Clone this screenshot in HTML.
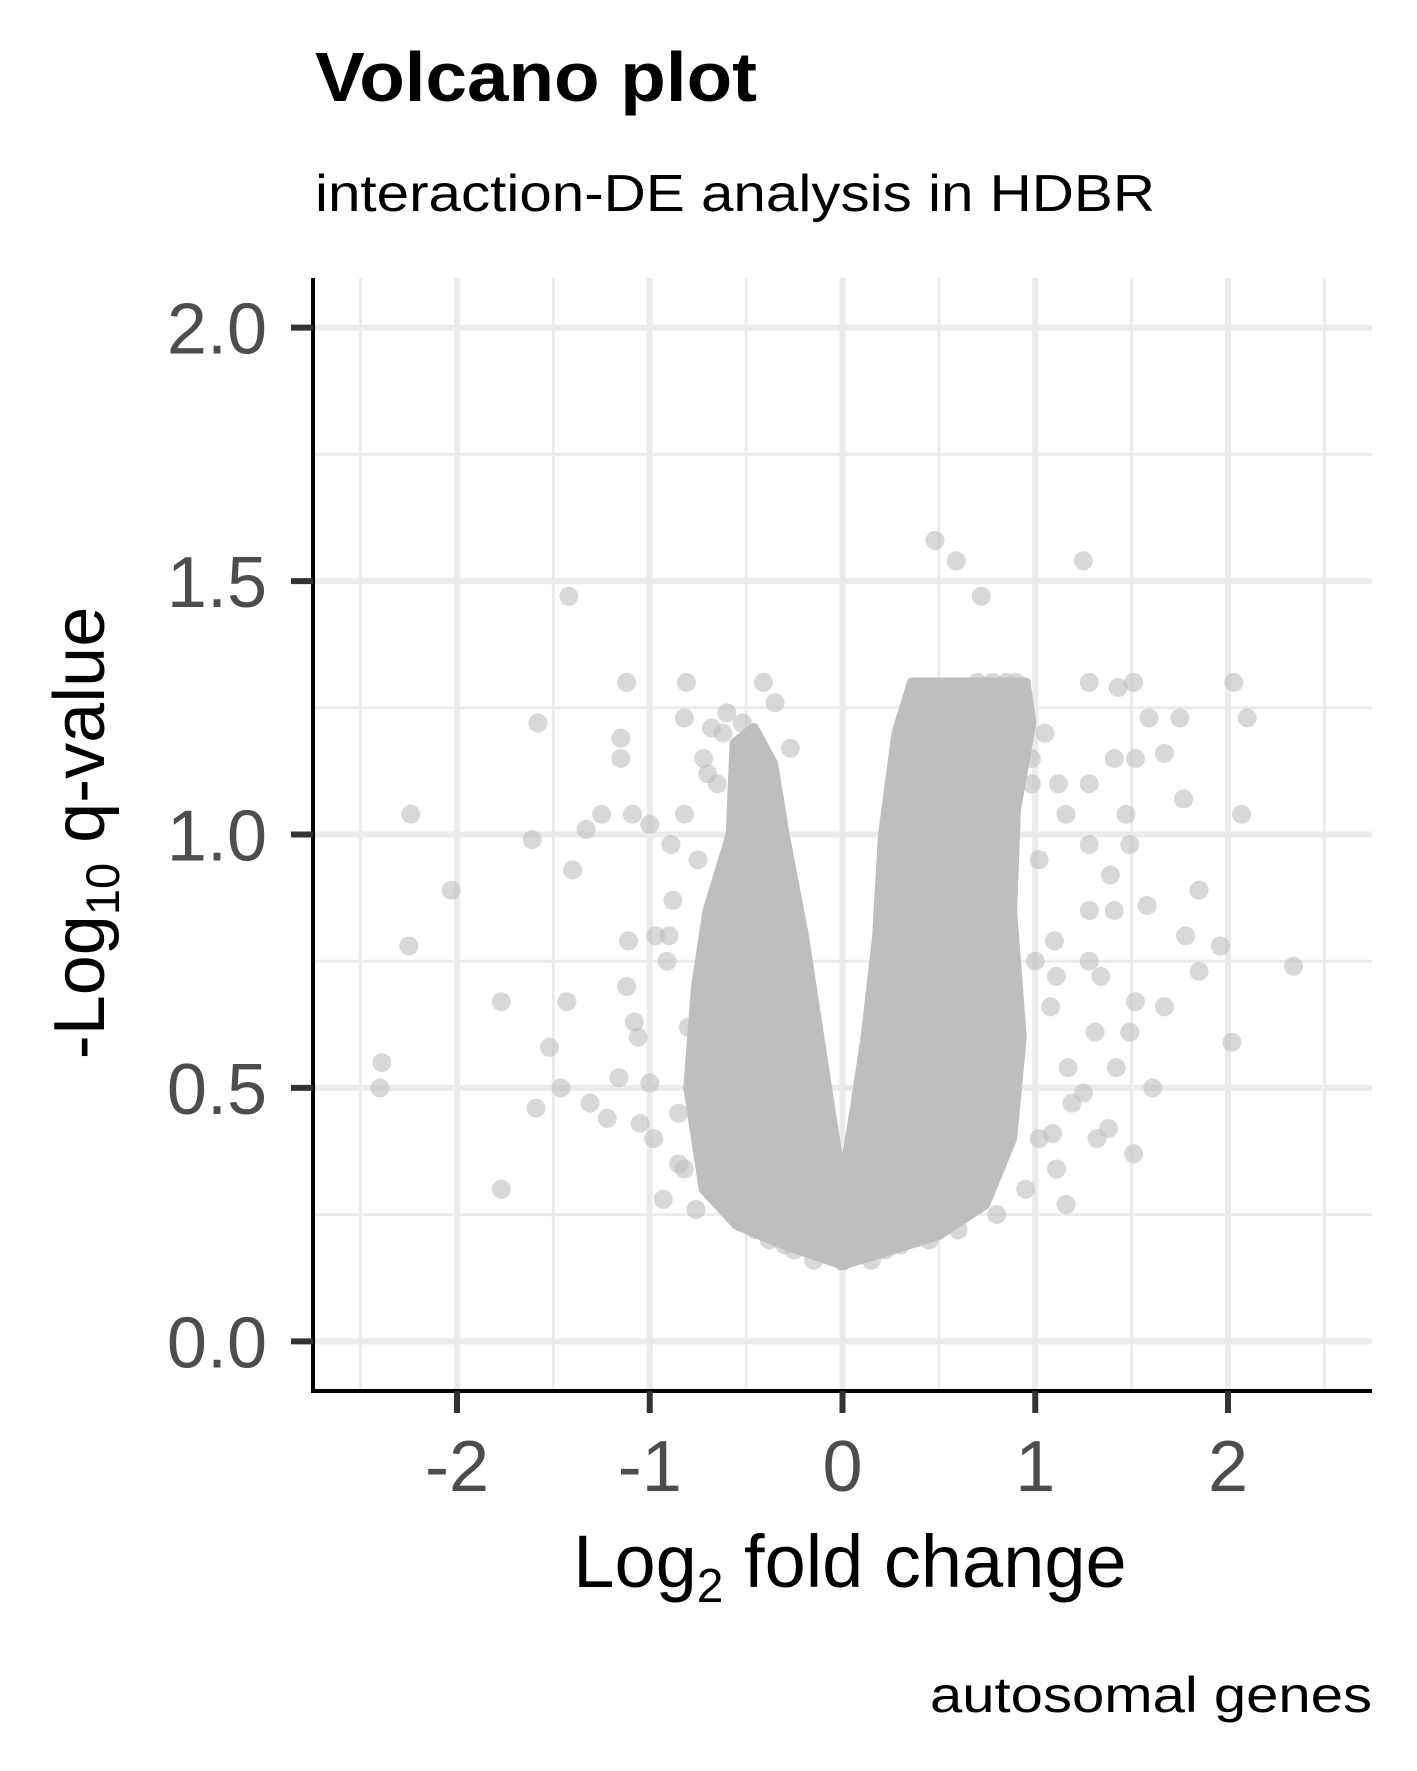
<!DOCTYPE html>
<html><head><meta charset="utf-8"><style>
html,body{margin:0;padding:0;background:#fff;}
svg{display:block;font-family:"Liberation Sans",Arial,sans-serif;}
</style></head><body>
<svg id="chart" width="1417" height="1771" viewBox="0 0 1417 1771" xmlns="http://www.w3.org/2000/svg">
<text x="315" y="101" font-size="70" font-weight="bold" textLength="442" lengthAdjust="spacingAndGlyphs">Volcano plot</text>
<text x="315" y="211" font-size="52" textLength="840" lengthAdjust="spacingAndGlyphs">interaction-DE analysis in HDBR</text>
<g id="grid"></g>
<g id="marks"></g>
<g id="axes"></g>
<text x="850" y="1587" font-size="74" text-anchor="middle">Log<tspan font-size="48" dy="15">2</tspan><tspan dy="-15"> fold change</tspan></text>
<text transform="translate(104,833) rotate(-90)" font-size="72" text-anchor="middle">-Log<tspan font-size="47" dy="15">10</tspan><tspan dy="-15"> q-value</tspan></text>
<text x="1372" y="1712" font-size="50" text-anchor="end" textLength="442" lengthAdjust="spacingAndGlyphs">autosomal genes</text>
</svg>
<script>
const xTicks=[-2,-1,0,1,2];
const xTickLabels=["-2","-1","0","1","2"];
const yTicks=[0,0.5,1,1.5,2];
const yTickLabels=["0.0","0.5","1.0","1.5","2.0"];
const xMinor=[-2.5,-1.5,-0.5,0.5,1.5,2.5];
const yMinor=[0.25,0.75,1.25,1.75];
const leftLobeX=[0.01,-0.3,-0.55,-0.72,-0.8,-0.76,-0.7,-0.58,-0.56,-0.46,-0.36,-0.3,-0.2,-0.12,-0.06,-0.01,0.01];
const leftLobeY=[0.15,0.19,0.23,0.3,0.5,0.7,0.85,1.0,1.18,1.21,1.14,1.0,0.8,0.6,0.45,0.33,0.3];
const rightLobeX=[-0.01,0.01,0.06,0.12,0.18,0.21,0.28,0.36,0.95,0.98,0.9,0.88,0.93,0.88,0.74,0.5,0.25,-0.01];
const rightLobeY=[0.3,0.33,0.45,0.6,0.8,1.0,1.2,1.3,1.3,1.22,1.05,0.85,0.6,0.4,0.27,0.21,0.18,0.15];
const pointX=[0.48,0.59,1.25,0.72,-1.42,-1.12,-0.81,-0.41,-1.58,2.03,2.10,1.75,1.59,1.67,1.77,2.07,-2.24,-2.03,-2.25,-2.39,-2.40,-1.77,-1.77,-1.59,-1.61,-1.40,-1.43,-1.52,-1.46,-1.31,-1.22,-1.33,-1.25,-1.15,-1.15,1.85,1.96,1.85,2.02,2.34,1.78,1.58,1.61,1.51,1.67,1.52,1.49,1.41,1.47,1.52,1.51,1.43,1.28,1.16,1.11,1.02,1.38,1.32,1.49,1.31,1.42,1.17,-1.12,-1.08,-1.06,-1.16,-1.05,-0.98,-0.82,-0.76,-1.11,-1.00,-1.09,-0.89,-0.82,-0.82,-0.68,-0.35,-0.27,-0.52,-0.88,-0.97,-0.91,-1.00,1.28,1.16,1.28,1.39,1.41,1.28,1.28,1.34,1.12,0.98,1.10,1.11,1.08,1.25,1.19,1.09,-0.85,-0.8,-0.9,-0.75,-0.7,-0.62,-0.6,-0.5,-0.45,-0.38,-0.3,-0.25,-0.15,0.15,0.22,0.3,0.45,0.6,0.8,0.95,1.0,1.02,0.98,1.05,0.4,0.5,0.7,0.85,0.9,-0.65,-0.72,-0.85,-0.93,0.2,0.35,0.55,0.65,0.78];
const pointY=[1.58,1.54,1.54,1.47,1.47,1.30,1.30,1.30,1.22,1.30,1.23,1.23,1.23,1.16,1.07,1.04,1.04,0.89,0.78,0.55,0.50,0.67,0.30,0.46,0.99,0.93,0.67,0.58,0.50,0.47,0.44,1.01,1.04,1.15,1.19,0.89,0.78,0.73,0.59,0.74,0.80,0.86,0.50,0.37,0.66,0.67,0.98,1.15,1.04,1.15,1.30,1.29,1.30,0.27,0.34,0.40,0.42,0.40,0.61,0.61,0.54,0.54,0.70,0.63,0.60,0.52,0.43,0.40,0.34,0.26,0.79,1.02,1.04,0.98,1.04,1.23,1.21,1.26,1.17,1.22,0.87,0.80,0.75,0.51,1.10,1.04,0.98,0.92,0.85,0.85,0.75,0.72,1.10,1.10,0.79,0.72,0.66,0.49,0.47,0.41,0.45,0.62,0.8,0.95,1.12,1.2,1.24,0.24,0.22,0.2,0.19,0.18,0.16,0.16,0.18,0.19,0.2,0.22,0.25,0.3,0.75,0.95,1.15,1.2,0.35,0.3,1.3,1.3,1.3,1.1,1.15,0.35,0.28,0.28,0.3,1.22,1.25,1.3,1.3,1.3];
const NS="http://www.w3.org/2000/svg";
const L=313,R=1372,T=278,B=1391;
const X0=-2.747,X1=2.747,Y0=-0.098,Y1=2.098;
function sx(v){return L+(v-X0)/(X1-X0)*(R-L);}
function sy(v){return B-(v-Y0)/(Y1-Y0)*(B-T);}
function mk(tag,attrs,parent){const e=document.createElementNS(NS,tag);for(const k in attrs)e.setAttribute(k,attrs[k]);parent.appendChild(e);return e;}
const grid=document.getElementById('grid'),marks=document.getElementById('marks'),axes=document.getElementById('axes');
xMinor.forEach(v=>{const e=mk('line',{x1:sx(v),x2:sx(v),y1:T,y2:B,stroke:'#ebebeb','stroke-width':3},grid);

});
yMinor.forEach(v=>{const e=mk('line',{x1:L,x2:R,y1:sy(v),y2:sy(v),stroke:'#ebebeb','stroke-width':3},grid);

});
xTicks.forEach(v=>{const e=mk('line',{x1:sx(v),x2:sx(v),y1:T,y2:B,stroke:'#ebebeb','stroke-width':6},grid);

});
yTicks.forEach(v=>{const e=mk('line',{x1:L,x2:R,y1:sy(v),y2:sy(v),stroke:'#ebebeb','stroke-width':6},grid);

});
function poly(xs,ys,name){const pts=xs.map((x,i)=>sx(x)+','+sy(ys[i])).join(' ');
const e=mk('polygon',{points:pts,fill:'#bebebe',stroke:'#bebebe','stroke-width':10,'stroke-linejoin':'round'},marks);

}
poly(leftLobeX,leftLobeY,'dense-points-left');
poly(rightLobeX,rightLobeY,'dense-points-right');
pointX.forEach((x,i)=>{const e=mk('circle',{cx:sx(x),cy:sy(pointY[i]),r:9.5,fill:'#bebebe','fill-opacity':0.6},marks);

});
let e=mk('line',{x1:L,x2:L,y1:T,y2:B+2,stroke:'#000','stroke-width':4},axes);


e=mk('line',{x1:L-2,x2:R,y1:B,y2:B,stroke:'#000','stroke-width':4},axes);


xTicks.forEach((v,i)=>{const t=mk('line',{x1:sx(v),x2:sx(v),y1:B,y2:B+22,stroke:'#333','stroke-width':6},axes);


const l=mk('text',{x:sx(v),y:B+100,'font-size':72,fill:'#4d4d4d','text-anchor':'middle'},axes);l.textContent=xTickLabels[i];

});
yTicks.forEach((v,i)=>{const t=mk('line',{x1:L-22,x2:L,y1:sy(v),y2:sy(v),stroke:'#333','stroke-width':6},axes);


const l=mk('text',{x:L-46,y:sy(v)+26,'font-size':72,fill:'#4d4d4d','text-anchor':'end'},axes);l.textContent=yTickLabels[i];

});
</script>
</body></html>
